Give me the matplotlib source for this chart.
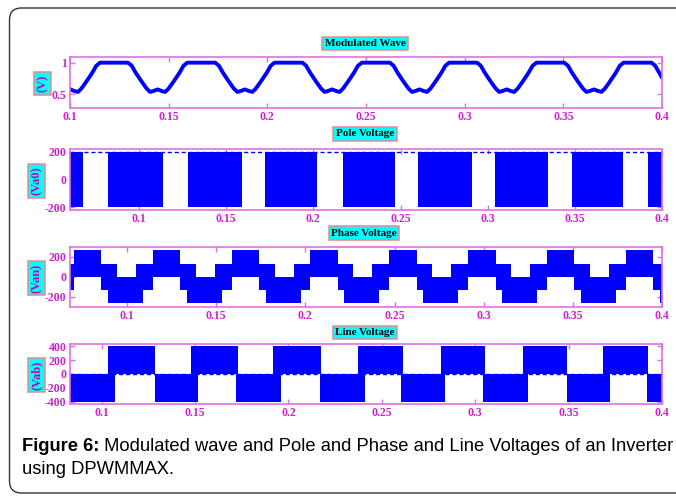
import matplotlib
matplotlib.use('Agg')
import matplotlib.pyplot as plt
from matplotlib.patches import FancyBboxPatch
from matplotlib.transforms import IdentityTransform
from matplotlib.ticker import FormatStrFormatter

# ---- data ----
# modulated wave (DPWMMAX reference), top panel
mod_t = [0.1000, 0.1021, 0.1040, 0.1058, 0.1083, 0.1113, 0.1133, 0.1152,
         0.1294, 0.1313, 0.1333, 0.1363, 0.1388, 0.1406, 0.1423, 0.1444, 0.1465, 0.1482, 0.1500, 0.1525, 0.1555, 0.1575, 0.1594,
         0.1736, 0.1755, 0.1775, 0.1805, 0.1830, 0.1848, 0.1865, 0.1886, 0.1907, 0.1924, 0.1942, 0.1967, 0.1997, 0.2017, 0.2036,
         0.2178, 0.2197, 0.2217, 0.2247, 0.2272, 0.2290, 0.2307, 0.2328, 0.2349, 0.2366, 0.2384, 0.2409, 0.2439, 0.2459, 0.2479,
         0.2621, 0.2640, 0.2660, 0.2690, 0.2715, 0.2733, 0.2750, 0.2771, 0.2792, 0.2809, 0.2827, 0.2852, 0.2882, 0.2902, 0.2921,
         0.3063, 0.3082, 0.3102, 0.3132, 0.3157, 0.3175, 0.3192, 0.3213, 0.3234, 0.3251, 0.3269, 0.3294, 0.3324, 0.3344, 0.3363,
         0.3505, 0.3524, 0.3544, 0.3574, 0.3599, 0.3617, 0.3634, 0.3655, 0.3676, 0.3693, 0.3711, 0.3736, 0.3766, 0.3786, 0.3805,
         0.3947, 0.3966, 0.3986, 0.4000]
mod_v = [0.58, 0.55, 0.535, 0.59, 0.70, 0.84, 0.95, 1.00,
         1.00, 0.95, 0.84, 0.70, 0.59, 0.535, 0.55, 0.575, 0.55, 0.535, 0.59, 0.70, 0.84, 0.95, 1.00,
         1.00, 0.95, 0.84, 0.70, 0.59, 0.535, 0.55, 0.575, 0.55, 0.535, 0.59, 0.70, 0.84, 0.95, 1.00,
         1.00, 0.95, 0.84, 0.70, 0.59, 0.535, 0.55, 0.575, 0.55, 0.535, 0.59, 0.70, 0.84, 0.95, 1.00,
         1.00, 0.95, 0.84, 0.70, 0.59, 0.535, 0.55, 0.575, 0.55, 0.535, 0.59, 0.70, 0.84, 0.95, 1.00,
         1.00, 0.95, 0.84, 0.70, 0.59, 0.535, 0.55, 0.575, 0.55, 0.535, 0.59, 0.70, 0.84, 0.95, 1.00,
         1.00, 0.95, 0.84, 0.70, 0.59, 0.535, 0.55, 0.575, 0.55, 0.535, 0.59, 0.70, 0.84, 0.95, 1.00,
         1.00, 0.95, 0.84, 0.76]

# pole voltage: switching (PWM) intervals, clamped at +200 in between
pole_pwm_start = [0.0604, 0.0823, 0.1282, 0.1724, 0.2171, 0.2601, 0.3042, 0.3484, 0.3920]
pole_pwm_end = [0.0680, 0.1136, 0.1590, 0.2022, 0.2469, 0.2911, 0.3346, 0.3776, 0.4000]
pole_level = 200

# phase voltage: step edges and the band the PWM switches within
phase_edges = [0.0680, 0.0702, 0.0856, 0.0893, 0.0943, 0.1050, 0.1089, 0.1144,
               0.1298, 0.1335, 0.1385, 0.1492, 0.1531, 0.1586,
               0.1740, 0.1777, 0.1827, 0.1934, 0.1973, 0.2028,
               0.2182, 0.2219, 0.2269, 0.2376, 0.2415, 0.2471,
               0.2625, 0.2662, 0.2712, 0.2819, 0.2858, 0.2913,
               0.3067, 0.3104, 0.3154, 0.3261, 0.3300, 0.3355,
               0.3509, 0.3546, 0.3596, 0.3703, 0.3742, 0.3797,
               0.3951, 0.3988, 0.4000]
phase_lo = [-133,
            0, -133, -267, -267, -267, -133,
            0, -133, -267, -267, -267, -133,
            0, -133, -267, -267, -267, -133,
            0, -133, -267, -267, -267, -133,
            0, -133, -267, -267, -267, -133,
            0, -133, -267, -267, -267, -133,
            0, -133, -267, -267, -267, -133,
            0, -133, -267]
phase_hi = [133,
            267, 133, 133, 0, 133, 133,
            267, 133, 133, 0, 133, 133,
            267, 133, 133, 0, 133, 133,
            267, 133, 133, 0, 133, 133,
            267, 133, 133, 0, 133, 133,
            267, 133, 133, 0, 133, 133,
            267, 133, 133, 0, 133, 133,
            267, 133, 133]

# line voltage: blocks switching 0..+400 and -400..0
line_pos_start = [0.1033, 0.1480, 0.1917, 0.2372, 0.2819, 0.3257, 0.3685]
line_pos_end = [0.1283, 0.1729, 0.2176, 0.2614, 0.3051, 0.3489, 0.3927]
line_neg_start = [0.0830, 0.1283, 0.1721, 0.2167, 0.2605, 0.3042, 0.3489, 0.3918]
line_neg_end = [0.1069, 0.1515, 0.1962, 0.2408, 0.2837, 0.3284, 0.3721, 0.4000]
line_level = 400

titles = ['Modulated Wave', 'Pole Voltage', 'Phase Voltage', 'Line Voltage']
ylabels = ['(V)', '(Va0)', '(Van)', '(Vab)']

BLUE = '#0000FF'
MAG = '#CC22CC'
FRAME = '#E070E0'
CYAN = '#00FFFF'
BOXEDGE = '#E88A8A'

W, H = 676, 498
fig = plt.figure(figsize=(W / 100, H / 100), dpi=100)


def add_ax(left, top, right, bottom):
    return fig.add_axes([left / W, 1 - bottom / H, (right - left) / W, (bottom - top) / H])


def boxed(x, y, s, color, rot=0, size=8):
    fig.text(x / W, 1 - y / H, s, ha='center', va='center', rotation=rot, color=color,
             fontsize=size, fontweight='bold', family='Liberation Serif',
             bbox=dict(boxstyle='square,pad=0.22', fc=CYAN, ec=BOXEDGE, lw=1.1))


ax1 = add_ax(70, 57, 662, 108)
ax2 = add_ax(70, 149, 662, 210)
ax3 = add_ax(70, 247, 662, 307)
ax4 = add_ax(70, 344, 662, 404)

# modulated wave
ax1.plot(mod_t, mod_v, color=BLUE, lw=2.8, solid_joinstyle='round', solid_capstyle='round')
ax1.set_xlim(0.1, 0.4)
ax1.set_ylim(0.28, 1.09)
ax1.set_yticks([0.5, 1])

# pole voltage
ax2.axhline(pole_level, color=BLUE, lw=1.0, ls=(0, (3, 2)), zorder=1)
for a, b in zip(pole_pwm_start, pole_pwm_end):
    ax2.fill_between([a, b], -pole_level, pole_level, color=BLUE, lw=0)
ax2.set_xlim(0.0604, 0.4)
ax2.set_ylim(-220, 220)
ax2.set_yticks([-200, 0, 200])

# phase voltage
ax3.fill_between(phase_edges, phase_lo + [phase_lo[-1]], phase_hi + [phase_hi[-1]],
                 step='post', color=BLUE, lw=0)
ax3.set_xlim(0.068, 0.4)
ax3.set_ylim(-305, 300)
ax3.set_yticks([-200, 0, 200])

# line voltage
ax4.axhline(0, color=BLUE, lw=1.0, ls=(0, (3, 2)), zorder=1)
for a, b in zip(line_pos_start, line_pos_end):
    ax4.fill_between([a, b], 0, line_level, color=BLUE, lw=0)
for a, b in zip(line_neg_start, line_neg_end):
    ax4.fill_between([a, b], -line_level, 0, color=BLUE, lw=0)
ax4.set_xlim(0.083, 0.4)
ax4.set_ylim(-430, 430)
ax4.set_yticks([-400, -200, 0, 200, 400])

for ax in (ax1, ax2, ax3, ax4):
    ax.set_xticks([0.1, 0.15, 0.2, 0.25, 0.3, 0.35, 0.4])
    ax.xaxis.set_major_formatter(FormatStrFormatter('%g'))
    ax.yaxis.set_major_formatter(FormatStrFormatter('%g'))
    ax.set_axisbelow(True)
    ax.tick_params(direction='in', top=True, right=True, length=3.5, width=1,
                   color=FRAME, labelcolor=MAG, labelsize=8.5, pad=2.5)
    for lab in ax.get_xticklabels() + ax.get_yticklabels():
        lab.set_family('Liberation Serif')
        lab.set_fontweight('bold')
    for sp in ax.spines.values():
        sp.set_color(FRAME)
        sp.set_linewidth(1.2)

# panel titles and y-labels in cyan boxes
boxed(365, 43.5, titles[0], 'black')
boxed(365, 134, titles[1], 'black')
boxed(364, 233, titles[2], 'black')
boxed(365, 332.5, titles[3], 'black')
boxed(42.5, 83.5, ylabels[0], '#B010B0', rot=90, size=9)
boxed(36.5, 181, ylabels[1], '#B010B0', rot=90, size=9)
boxed(36.5, 278, ylabels[2], '#B010B0', rot=90, size=9)
boxed(36.5, 375, ylabels[3], '#B010B0', rot=90, size=9)

# rounded outer frame
frame = FancyBboxPatch((9.5, 5), 700, 485, boxstyle='round,pad=0,rounding_size=12',
                       transform=IdentityTransform(), fc='none', ec='#333333', lw=1.0)
fig.add_artist(frame)

# caption
cap_size = 13.25
y1 = 1 - 446 / H
y2 = 1 - 469 / H
tb = fig.text(22 / W, y1, 'Figure 6:', fontsize=cap_size, fontweight='bold',
              family='Liberation Sans', va='center')
fig.canvas.draw()
bb = tb.get_window_extent(fig.canvas.get_renderer())
fig.text(bb.x1 / W, y1, ' Modulated wave and Pole and Phase and Line Voltages of an Inverter',
         fontsize=cap_size, family='Liberation Sans', va='center')
fig.text(22 / W, y2, 'using DPWMMAX.', fontsize=cap_size, family='Liberation Sans', va='center')

fig.savefig('out.png', dpi=100)
